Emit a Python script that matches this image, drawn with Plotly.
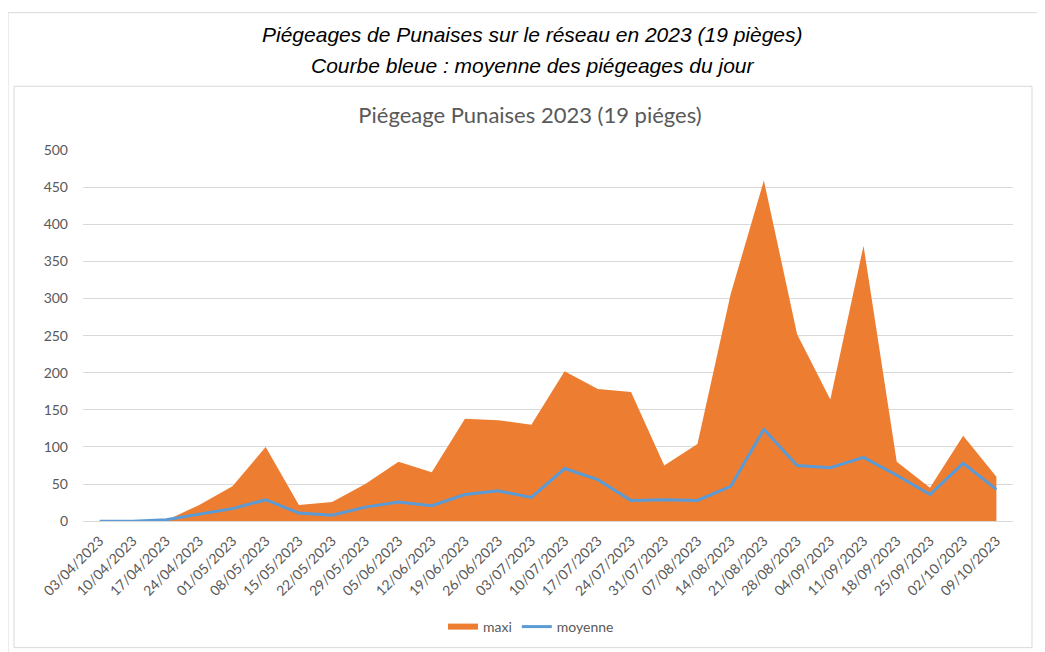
import plotly.graph_objects as go

dates = ["03/04/2023", "10/04/2023", "17/04/2023", "24/04/2023", "01/05/2023", "08/05/2023",
         "15/05/2023", "22/05/2023", "29/05/2023", "05/06/2023", "12/06/2023", "19/06/2023",
         "26/06/2023", "03/07/2023", "10/07/2023", "17/07/2023", "24/07/2023", "31/07/2023",
         "07/08/2023", "14/08/2023", "21/08/2023", "28/08/2023", "04/09/2023", "11/09/2023",
         "18/09/2023", "25/09/2023", "02/10/2023", "09/10/2023"]
maxi = [0, 0, 1, 22, 47, 100, 22, 26, 50, 80, 66, 138, 136, 130, 202, 178, 174, 75, 104,
        306, 459, 252, 164, 371, 80, 45, 115, 60]
moyenne = [0, 0, 2, 9, 17, 29, 11, 8, 19, 26, 21, 36, 41, 32, 71, 56, 28, 29, 28,
           47, 124, 75, 72, 86, 62, 36, 78, 43]
y_ticks = [0, 50, 100, 150, 200, 250, 300, 350, 400, 450, 500]

ORANGE = "#ED7D31"
BLUE = "#5B9BD5"
GRAY_TXT = "#595959"
GRID = "#D9D9D9"
FONT = "Lato, Open Sans, sans-serif"

fig = go.Figure()
fig.add_trace(go.Scatter(x=dates, y=maxi, name="maxi", mode="none", fill="tozeroy",
                         fillcolor=ORANGE))
fig.add_trace(go.Scatter(x=dates, y=moyenne, name="moyenne", mode="lines",
                         line=dict(color=BLUE, width=3)))

# page offset (body margin) compensation
D = 8
W, H = 1045, 652
L, R, T, B = 83 - D, 1013 - D, 150 - D, 523 - D


def px(x):
    return (x - D - L) / (R - L)


def py(y):
    return (B - (y - D)) / (B - T)


shapes = [
    dict(type="rect", xref="paper", yref="paper", x0=px(8), x1=px(1070), y0=py(680), y1=py(12),
         line=dict(color="#D9D9D9", width=1), fillcolor="rgba(0,0,0,0)", layer="below"),
    dict(type="rect", xref="paper", yref="paper", x0=px(14), x1=px(1032), y0=py(650), y1=py(86),
         line=dict(color="#D9D9D9", width=1), fillcolor="rgba(0,0,0,0)", layer="below"),
]

TFONT = dict(family="Liberation Sans Narrow, Liberation Sans, Arial", size=21, color="#000000",
             style="italic")
annotations = [
    dict(text="Piégeages de Punaises sur le réseau en 2023 (19 pièges)", xref="paper", yref="paper",
         x=px(532), y=py(34), showarrow=False, xanchor="center", yanchor="middle", font=TFONT),
    dict(text="Courbe bleue : moyenne des piégeages du jour", xref="paper", yref="paper",
         x=px(532), y=py(65), showarrow=False, xanchor="center", yanchor="middle", font=TFONT),
]

fig.update_layout(
    width=W, height=H,
    margin=dict(l=L, r=W - R, t=T, b=H - B),
    paper_bgcolor="white", plot_bgcolor="white",
    title=dict(text="Piégeage Punaises 2023 (19 piéges)", xref="container", yref="container",
               x=(530 - D) / W, y=1 - (115 - D) / H, xanchor="center", yanchor="middle",
               font=dict(family=FONT, size=22, color=GRAY_TXT)),
    xaxis=dict(type="category", range=[-0.5, len(dates) - 0.5], tickangle=-45,
               showgrid=False, showline=True, linecolor=GRID, ticks="", ticklabelstandoff=5,
               tickfont=dict(family=FONT, size=14, color=GRAY_TXT)),
    yaxis=dict(range=[0, 500], tickvals=y_ticks, showgrid=True, gridcolor=GRID, gridwidth=1,
               zeroline=False, showline=False, ticks="", ticklabelstandoff=14,
               tickfont=dict(family=FONT, size=14, color=GRAY_TXT)),
    legend=dict(orientation="h", xref="container", yref="container", x=(531 - D) / W,
                y=1 - (627 - D) / H, xanchor="center", yanchor="middle",
                font=dict(family=FONT, size=14, color=GRAY_TXT)),
    shapes=shapes,
    annotations=annotations,
)

fig.write_html("out.html")
